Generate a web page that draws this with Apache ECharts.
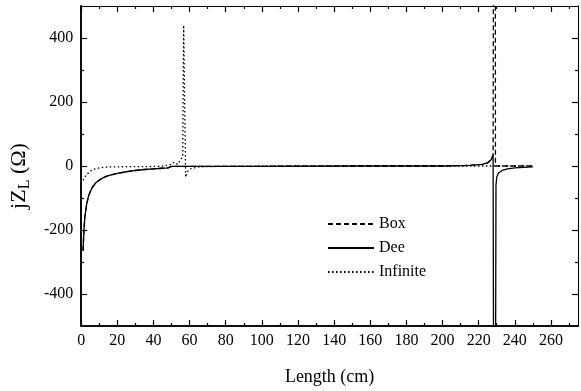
<!DOCTYPE html>
<html>
<head>
<meta charset="utf-8">
<script src="https://cdn.jsdelivr.net/npm/echarts@6/dist/echarts.min.js"></script>
<style>
  html, body { margin: 0; padding: 0; background: #fff; }
  #main { width: 581px; height: 391px; }
</style>
</head>
<body>
<div id="main"></div>
<script>
// values
var deeX = [1, 1.5, 2, 3, 4, 5, 6, 8, 10, 12, 15, 20, 25, 30, 35, 40, 45, 48, 50, 60, 100, 150, 200, 215, 222, 225, 227, 228, 228.6, 228.8, 229.4, 229.6, 230, 231, 233, 236, 240, 245, 250];
var deeY = [-265, -200, -160, -120, -95, -80, -68, -53, -44, -37, -30, -23, -18, -14, -11, -9, -7, -6, -1, -1, -1, 0, 0, 2, 5, 10, 20, 35, 40, -2000, -2000, -60, -35, -22, -14, -9, -6, -4, -3];

var boxX = [1, 1.5, 2, 3, 4, 5, 6, 8, 10, 12, 15, 20, 25, 30, 35, 40, 45, 48, 50, 60, 100, 150, 200, 215, 222, 225, 227, 228, 228.6, 229, 229.3, 232, 240, 250];
var boxY = [-265, -200, -160, -120, -95, -80, -68, -53, -44, -37, -30, -23, -18, -14, -11, -9, -7, -6, -1, -1, -1, 0, 0, 2, 5, 10, 20, 35, 40, 3000, 0, 0, 0, 0];

var infX = [1, 2, 3, 5, 7, 10, 13, 16, 20, 30, 40, 46, 50, 51.5, 53.4, 55.2, 56.2, 56.7, 57.8, 58.5, 60, 62, 65, 70, 80, 100, 150, 200, 228, 230, 250];
var infY = [-45, -35, -27, -16, -10, -6, -4, -3, -2.5, -2, -1.5, 0, 5, 12, 5, 21, 31, 440, -35, -20, -10, -6, -3, -2, -1, 0, 0, 0, 0, 0, 0];

var xMajor = [0, 20, 40, 60, 80, 100, 120, 140, 160, 180, 200, 220, 240, 260];
var xMinor = [10, 30, 50, 70, 90, 110, 130, 150, 170, 190, 210, 230, 250, 270];
var yMajor = [-400, -200, 0, 200, 400];
var yMinor = [-300, -100, 100, 300];

function pairs(xs, ys) {
  return xs.map(function (x, i) { return [x, ys[i]]; });
}

var font = 'Liberation Serif';
var ink = '#000';

function xAx(pos, ticks, len, labels) {
  return {
    type: 'value', position: pos, min: 0, max: 275,
    axisLine: { show: true, onZero: false, lineStyle: { color: ink, width: pos === 'bottom' ? 1.6 : 1 } },
    splitLine: { show: false },
    axisTick: { show: true, inside: true, length: len, customValues: ticks, lineStyle: { color: ink, width: 1.2 } },
    axisLabel: labels ? { show: true, customValues: ticks, margin: 7, color: ink, fontFamily: font, fontSize: 16 } : { show: false }
  };
}

function yAx(pos, ticks, len, labels) {
  return {
    type: 'value', position: pos, min: -500, max: 500,
    axisLine: { show: true, onZero: false, lineStyle: { color: ink, width: pos === 'left' ? 1.6 : 1 } },
    splitLine: { show: false },
    axisTick: { show: true, inside: true, length: len, customValues: ticks, lineStyle: { color: ink, width: 1.2 } },
    axisLabel: labels ? { show: true, customValues: ticks, margin: 8, color: ink, fontFamily: font, fontSize: 16 } : { show: false }
  };
}

var xMain = xAx('bottom', xMajor, 6, true);
xMain.name = 'Length (cm)';
xMain.nameLocation = 'middle';
xMain.nameGap = 42;
xMain.nameTextStyle = { color: ink, fontFamily: font, fontSize: 18 };

var yMain = yAx('left', yMajor, 6, true);
yMain.name = 'jZ{sub|L} (Ω)';
yMain.nameLocation = 'middle';
yMain.nameGap = 41;
yMain.nameTextStyle = {
  color: ink, fontFamily: font, fontSize: 22,
  padding: [0, 20, 0, 0],
  rich: { sub: { fontFamily: font, fontSize: 16, color: ink, verticalAlign: 'bottom', padding: [12, 0, 0, 0] } }
};

var myChart = echarts.init(document.getElementById('main'));
var option = {
  animation: false,
  backgroundColor: '#fff',
  grid: { left: 80, right: 3, top: 6, bottom: 64 },
  legend: {
    orient: 'vertical',
    left: 327,
    top: 216,
    padding: 0,
    itemWidth: 46,
    itemHeight: 14,
    itemGap: 8,
    itemStyle: { opacity: 0 },
    textStyle: { color: ink, fontFamily: font, fontSize: 16, padding: [0, 0, 0, 0] },
    data: ['Box', 'Dee', 'Infinite']
  },
  xAxis: [
    xMain,
    xAx('bottom', xMinor, 3, false),
    xAx('top', xMajor, 6, false),
    xAx('top', xMinor, 3, false)
  ],
  yAxis: [
    yMain,
    yAx('left', yMinor, 3, false),
    yAx('right', yMajor, 6, false),
    yAx('right', yMinor, 3, false)
  ],
  series: [
    {
      name: 'Box', type: 'line', symbol: 'none', xAxisIndex: 0, yAxisIndex: 0,
      lineStyle: { color: ink, width: 1.3, type: [5, 3] },
      itemStyle: { color: ink },
      data: pairs(boxX, boxY)
    },
    {
      name: 'Dee', type: 'line', symbol: 'none', xAxisIndex: 0, yAxisIndex: 0,
      lineStyle: { color: ink, width: 1.3, type: 'solid' },
      itemStyle: { color: ink },
      data: pairs(deeX, deeY)
    },
    {
      name: 'Infinite', type: 'line', symbol: 'none', xAxisIndex: 0, yAxisIndex: 0,
      lineStyle: { color: ink, width: 1.3, type: [1.5, 2.5] },
      itemStyle: { color: ink },
      data: pairs(infX, infY)
    }
  ]
};
myChart.setOption(option);
</script>
</body>
</html>
